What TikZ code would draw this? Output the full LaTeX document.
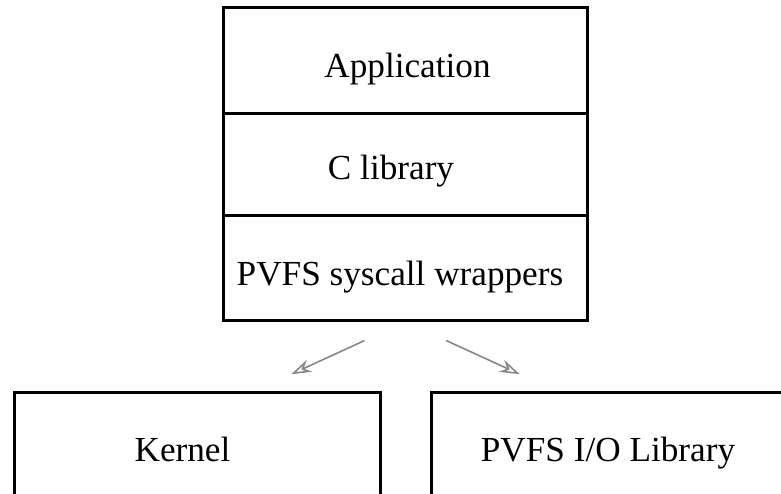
\documentclass[tikz,border=0pt]{standalone}
\usepackage{fontspec}
\setmainfont{Liberation Serif}
\usetikzlibrary{arrows.meta}
\definecolor{linkgray}{RGB}{135,135,135}

\begin{document}
\begin{tikzpicture}[x=0.5pt, y=-0.5pt,
    layerbox/.style={draw, line width=1.5pt, rectangle, inner sep=0pt},
    layertext/.style={anchor=base, inner sep=0pt, font=\fontsize{17.6pt}{21pt}\selectfont},
    link/.style={draw=linkgray, line width=0.8pt, -{Stealth[open, length=10pt, width=6.5pt]}}]
    \useasboundingbox (0,0) rectangle (781,493);

    % Pila de capas
    \node[layerbox, minimum width=182.35pt, minimum height=156.4pt] (stack) at (405.35,163.9) {};
    \draw[line width=1.5pt] (stack.west |- 0,113.5) -- (stack.east |- 0,113.5);
    \draw[line width=1.5pt] (stack.west |- 0,215.2) -- (stack.east |- 0,215.2);

    \node[layertext] (app)  at (407.5,77)  {Application};
    \node[layertext] (clib) at (391,179)   {C library};
    \node[layertext] (wrap) at (400,285)   {PVFS syscall wrappers};

    % Cajas inferiores
    \node[layerbox, anchor=north, minimum width=182.75pt, minimum height=85pt] (kernel) at (197.25,391.3) {};
    \node[layerbox, anchor=north, minimum width=176.75pt, minimum height=85pt] (iolib) at (608.25,391.3) {};

    \node[layertext] (kerneltext) at (182.5,461.5) {Kernel};
    \node[layertext] (iolibtext)  at (608,461.5)   {PVFS I/O Library};

    % Flechas
    \coordinate (kin) at (254,391.3);
    \coordinate (lin) at (557,391.3);
    \draw[link, shorten <=22.5pt, shorten >=20.5pt] (stack.south) -- (kin);
    \draw[link, shorten <=22.5pt, shorten >=20.5pt] (stack.south) -- (lin);
\end{tikzpicture}
\end{document}
